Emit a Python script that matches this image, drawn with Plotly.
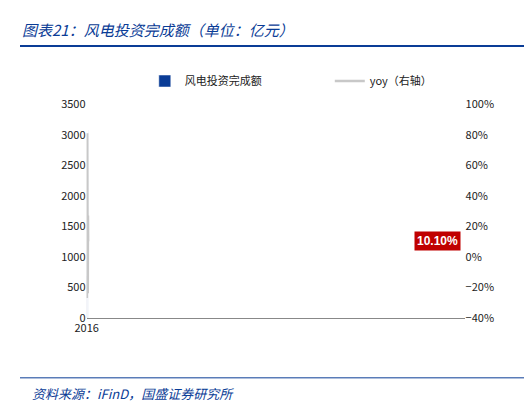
import plotly.graph_objects as go

years = ['2016', '2017', '2018', '2019', '2020', '2021', '2022', '2023', '2024']
invest = [940, 690, 650, 1170, 2650, 2480, 1960, 2570, 3080]
yoy = [-0.23, -0.27, -0.05, 0.81, 0.70, -0.07, -0.24, 0.27, 0.101]

blue = '#0A3C96'
font = 'Noto Sans CJK SC'

fig = go.Figure()
fig.add_trace(go.Bar(x=years, y=invest, name='风电投资完成额', marker_color=blue))
fig.add_trace(go.Scatter(x=years, y=yoy, name='yoy（右轴）', mode='lines',
                         line=dict(color='#C8C8C8', width=2.5), yaxis='y2'))

fig.add_annotation(x='2024', y=yoy[-1], yref='y2', text='<b>10.10%</b>', showarrow=False,
                   xanchor='right', xshift=-4, bgcolor='#C00000', borderpad=2,
                   font=dict(color='white', size=12, family='Arial'))

fig.add_annotation(x=0, y=1, xref='paper', yref='paper', xanchor='left', yanchor='top',
                   text='<i>图表21：风电投资完成额（单位：亿元）</i>', showarrow=False,
                   font=dict(color=blue, size=15, family=font))
fig.add_annotation(x=0.02, y=0, xref='paper', yref='paper', xanchor='left', yanchor='bottom',
                   text='<i>资料来源：iFinD，国盛证券研究所</i>', showarrow=False,
                   font=dict(color=blue, size=13, family=font))
fig.add_shape(type='line', xref='paper', yref='paper', x0=0, x1=1, y0=0.925, y1=0.925,
              line=dict(color=blue, width=2))
fig.add_shape(type='line', xref='paper', yref='paper', x0=0, x1=1, y0=0.07, y1=0.07,
              line=dict(color=blue, width=1))

fig.update_layout(
    width=532, height=404, template='plotly_white', showlegend=True,
    margin=dict(l=0, r=0, t=0, b=0),
    font=dict(family=font, size=11, color='#222'),
    legend=dict(orientation='h', x=0.24, y=0.835, xanchor='left', yanchor='middle',
                font=dict(size=11), entrywidth=140, entrywidthmode='pixels'),
    xaxis=dict(type='category', domain=[0.128, 0.855], showgrid=False, showline=True,
               linecolor='#888', ticks='', tickfont=dict(size=11)),
    yaxis=dict(domain=[0.225, 0.775], range=[0, 3500], dtick=500, showgrid=False,
               showline=False, zeroline=False, tickfont=dict(size=11)),
    yaxis2=dict(overlaying='y', side='right', range=[-0.4, 1.0], dtick=0.2,
                tickformat='.0%', showgrid=False, zeroline=False, tickfont=dict(size=11)),
    bargap=0.55,
)

fig.write_html('out.html')
